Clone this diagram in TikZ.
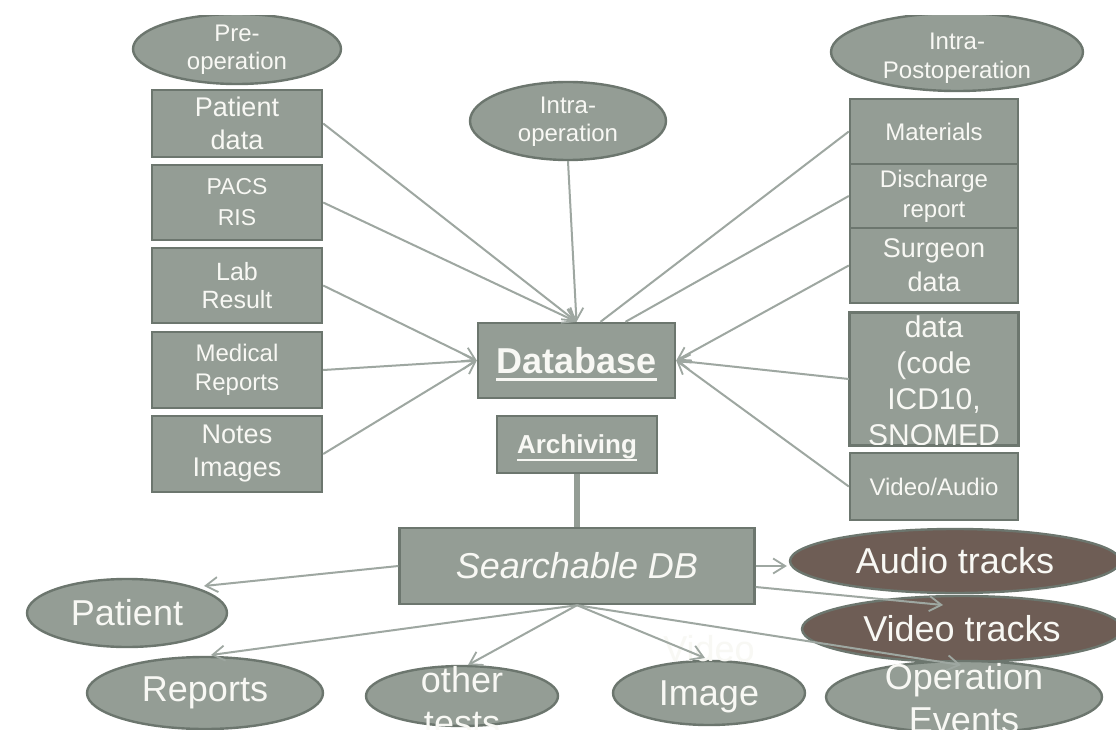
\documentclass[tikz,border=0pt]{standalone}
\usepackage{fontspec}
\setmainfont{Liberation Sans}
\usetikzlibrary{shapes.geometric,arrows.meta,calc}
\definecolor{boxfill}{RGB}{148,157,149}
\definecolor{boxline}{RGB}{108,118,110}
\definecolor{trackfill}{RGB}{110,93,85}
\definecolor{wirecol}{RGB}{158,167,161}
\definecolor{ink}{RGB}{248,248,244}
\newcommand\fs[2]{\fontsize{#1}{#2}\selectfont}
% word with a heavy underline: text, rule offset, rule thickness
\newcommand\ulword[3]{\setbox0=\hbox{#1}\rlap{\copy0}\rule[#2]{\wd0}{#3}}
\begin{document}
\begin{tikzpicture}[x=1pt,y=-1pt,
  box/.style={draw=boxline, line width=2.4pt, fill=boxfill, text=ink, align=center, inner sep=0pt},
  oval/.style={ellipse, draw=boxline, line width=2.4pt, fill=boxfill, text=ink, inner sep=0pt},
  track/.style={oval, fill=trackfill},
  lbl/.style={text=ink, align=center, inner sep=0pt},
  wire/.style={draw=wirecol, line width=2pt},
  feed/.style={wire, -{Straight Barb[length=12pt,width=15pt,line width=1.8pt]}},
]
\useasboundingbox (0,0) rectangle (1116,730);
\fill[white] (0,0) rectangle (1116,730);
\clip (0,16) rectangle (1116,730);

% ---- pre-operation column
\node[oval, minimum width=208pt, minimum height=70pt] (preop) at (237,49) {};
\node[lbl, font=\fs{24}{28}] (preoptxt) at (237,50) {Pre-\\operation};
\node[box, minimum width=170pt, minimum height=67pt, font=\fs{27}{33}] (pdata) at (237,123.5) {Patient\\data};
\node[box, minimum width=170pt, minimum height=75pt, font=\fs{23}{31}] (pacs) at (237,202.5) {PACS\\RIS};
\node[box, minimum width=170pt, minimum height=75pt, font=\fs{25}{28}] (lab) at (237,285.5) {Lab\\Result};
\node[box, minimum width=170pt, minimum height=76pt, font=\fs{24}{29}] (med) at (237,370) {Medical\\Reports};
\node[box, minimum width=170pt, minimum height=76pt, font=\fs{27}{33}] (notes) at (237,454) {Notes\\Images};

% ---- intra-operation
\node[oval, minimum width=196pt, minimum height=78pt] (intraop) at (568,121) {};
\node[lbl, font=\fs{24}{28}] (intraoptxt) at (568,122) {Intra-\\operation};

% ---- intra/post-operation column
\node[oval, minimum width=252pt, minimum height=78pt] (post) at (957,52) {};
\node[lbl, font=\fs{24}{29}] (posttxt) at (957,58) {Intra-\\Postoperation};
\node[box, minimum width=168pt, minimum height=65pt, font=\fs{24}{29}] (mat) at (934,131.5) {Materials};
\node[box, minimum width=168pt, minimum height=64pt, font=\fs{24}{30}] (disc) at (934,196) {Discharge\\report};
\node[box, minimum width=168pt, minimum height=75pt, font=\fs{27}{34}] (surg) at (934,265.5) {Surgeon\\data};
\node[box, minimum width=168pt, minimum height=132pt] (code) at (934,379) {};
\node[lbl, font=\fs{30}{36}] (codetxt) at (934,381) {data\\(code\\ICD10,\\SNOMED};
\draw[draw=boxline, line width=2.4pt] (code.south west) rectangle (code.north east);
\node[box, minimum width=168pt, minimum height=67pt, font=\fs{24}{29}] (va) at (934,486.5) {Video/Audio};

% ---- central store
\node[box, minimum width=197pt, minimum height=75pt, text depth=0pt, font=\fs{36}{40}\bfseries] (db) at (576.5,360.5) {\ulword{Database}{-7pt}{2.6pt}};
\node[box, minimum width=160pt, minimum height=57pt, text depth=0pt, font=\fs{26}{30}\bfseries] (arch) at (577,444.5) {\ulword{Archiving}{-7pt}{2pt}};
\node[box, minimum width=355pt, minimum height=76pt, font=\fs{36}{40}\itshape] (S) at (577,566) {Searchable DB};

% ---- search results
\node[track, minimum width=330pt, minimum height=64pt, font=\fs{36}{40}] (aud) at (955,561) {Audio tracks};
\node[track, minimum width=320pt, minimum height=66pt, font=\fs{36}{40}] (vid) at (962,629) {Video tracks};
\node[oval, minimum width=200pt, minimum height=68pt, font=\fs{36}{40}] (pat) at (127,613) {Patient};
\node[oval, minimum width=236pt, minimum height=72pt, font=\fs{36}{40}] (rep) at (205,693) {Reports};
\node[oval, minimum width=192pt, minimum height=60pt] (oth) at (462,696) {};
\node[lbl, font=\fs{36}{43}] (othtxt) at (462,701.5) {other\\tests};
\node[oval, minimum width=192pt, minimum height=64pt] (img) at (709,693) {};
\node[lbl, font=\fs{36}{44}] (imgtxt) at (709,674) {Video\\Image};
\node[oval, minimum width=276pt, minimum height=72pt] (opev) at (964,697) {};
\node[lbl, font=\fs{36}{43}] (opevtxt) at (964,698) {Operation\\Events};

% ---- feeds into the database
\coordinate (dbA) at ($(db.north)+(24,0)$);
\coordinate (dbB) at ($(db.north)+(49,0)$);
\draw[feed] (pdata.east) -- (db.north);
\draw[feed] (pacs.east) -- (db.north);
\draw[feed] (intraop.south) -- (db.north);
\draw[feed] (lab.east) -- (db.west);
\draw[feed] (med.east) -- (db.west);
\draw[feed] (notes.east) -- (db.west);
\draw[wire] (mat.west) -- (dbA);
\draw[wire] (disc.west) -- (dbB);
\draw[feed] (surg.west) -- (db.east);
\draw[feed] (code.west) -- (db.east);
\draw[feed] (va.west) -- (db.east);

% ---- archive link
\draw[draw=boxfill, line width=6pt] (arch.south) -- (S.north);

% ---- search outputs
\coordinate (patTip) at ($(pat.center)+(77,-27)$);
\coordinate (repTip) at ($(rep.center)+(6,-38)$);
\coordinate (othTip) at ($(oth.center)+(6,-31)$);
\coordinate (imgTip) at ($(img.center)+(-4,-35)$);
\coordinate (opTip) at ($(opev.center)+(-3,-32)$);
\coordinate (vidTip) at ($(vid.center)+(-19,-24)$);
\coordinate (vidFrom) at ($(S.east)+(0,21)$);
\draw[feed] (S.west) -- (patTip);
\draw[feed] (S.south) -- (repTip);
\draw[feed] (S.south) -- (othTip);
\draw[feed] (S.south) -- (imgTip);
\draw[feed] (S.south) -- (opTip);
\draw[feed] (vidFrom) -- (vidTip);
\draw[feed, shorten >=2pt] (S.east) -- (S.east -| aud.west);
\end{tikzpicture}
\end{document}
